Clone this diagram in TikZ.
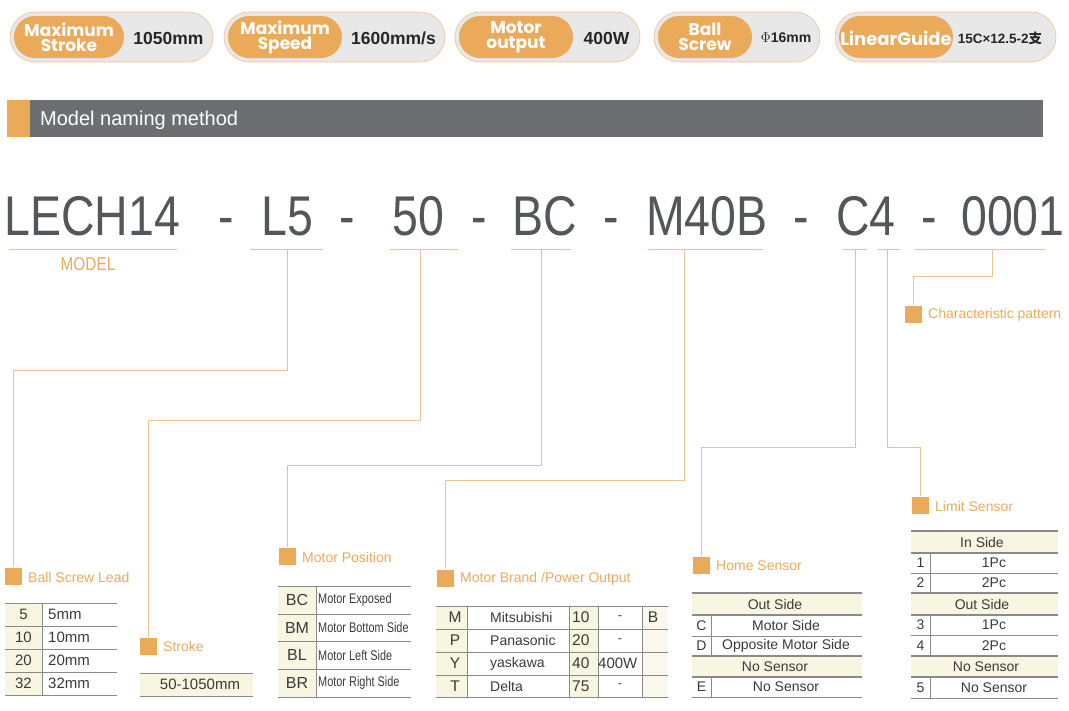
\documentclass[tikz,border=0pt]{standalone}
\usepackage{fontspec}
\setmainfont{Liberation Sans}
\newfontfamily\pop{Poppins}
\newfontfamily\narrow[FakeStretch=0.83]{Liberation Sans}
\newfontfamily\narrowb[FakeStretch=0.78]{Liberation Sans}
\newfontfamily\cjk{Noto Sans CJK SC}
\definecolor{orng}{HTML}{EBA95A}
\definecolor{lead}{HTML}{E9C290}
\definecolor{bgray}{HTML}{E8E8E8}
\definecolor{hdr}{HTML}{6D6E71}
\definecolor{big}{HTML}{53575A}
\definecolor{cream}{HTML}{F8F5E1}
\definecolor{tline}{HTML}{8A8A8A}
\definecolor{ttext}{HTML}{3A3A3A}
\begin{document}
\begin{tikzpicture}[x=1pt,y=-1pt,
  leadln/.style={draw=lead,line width=0.9pt},
  sq/.style={fill=orng},
  lab/.style={anchor=west,text=orng,font=\fontsize{14}{15}\selectfont,inner sep=0},
  bigt/.style={anchor=base west,text=big,font=\narrow\fontsize{56}{60}\selectfont,inner sep=0},
  btxt/.style={text=white,font=\pop\bfseries\fontsize{17}{15}\selectfont,align=center,inner sep=0},
  bval/.style={text=black!85,font=\bfseries\fontsize{18}{15}\selectfont,inner sep=0},
  cell/.style={text=ttext,font=\fontsize{12.5}{13}\selectfont,inner sep=0},
  tl/.style={draw=tline,line width=0.8pt},
  th/.style={draw=tline,line width=1.6pt}]
\useasboundingbox (0,0) rectangle (1069,710);
% badges
\foreach \a/\b/\c/\t/\v/\vs in {10/213/124/{Maximum\\Stroke}/1050mm/17.5, 224/445/342/{Maximum\\Speed}/1600mm\slash s/17.5, 455/640/573/{Motor\\output}/400W/17.5, 654/820/752/{Ball\\Screw}/{$\Phi$16mm}/14}{
  \draw[fill=bgray,draw=orng!70,line width=0.6pt,rounded corners=25] (\a,12) rectangle (\b,62);
  \fill[orng,rounded corners=21] (\a+4,16) rectangle (\c,58);
  \node[btxt] at ({(\a+4+\c)/2},37) {\t};
  \node[bval,font=\bfseries\fontsize{\vs}{14}\selectfont] at ({(\c+\b)/2},38) {\v};
}
\draw[fill=bgray,draw=orng!70,line width=0.6pt,rounded corners=25] (835,12) rectangle (1056,62);
\fill[orng,rounded corners=21] (839,16) rectangle (953,58);
\node[btxt,font=\pop\bfseries\fontsize{18}{16}\selectfont] at (896,38) {LinearGuide};
\node[bval,font=\bfseries\fontsize{13.5}{13}\selectfont] at (1000,38) {15C×12.5-2{\cjk 支}};
% header
\fill[hdr] (7,100) rectangle (1043,137);
\fill[orng] (7,100) rectangle (30,137);
\node[anchor=west,text=white,font=\fontsize{20}{20}\selectfont,inner sep=0] at (40,120) {Model naming method};
% big code
\node[bigt] (m) at (4,235) {LECH14};
\node[bigt] at (218,235) {-};
\node[bigt] (l5) at (261,235) {L5};
\node[bigt] at (339,235) {-};
\node[bigt] (s50) at (392,235) {50};
\node[bigt] at (471,235) {-};
\node[bigt] (bc) at (512,235) {BC};
\node[bigt] at (603,235) {-};
\node[bigt] (mb) at (646,235) {M40B};
\node[bigt] at (793,235) {-};
\node[bigt] (c4) at (836,235) {C4};
\node[bigt] at (921,235) {-};
\node[bigt] (ch) at (961,235) {0001};
% underlines
\foreach \a/\b in {9/177,250/323,390/458,511/571,648/763,843/867,878/900,915/1045}
  \draw[leadln] (\a,249) -- (\b,249);
\node[text=orng,font=\narrow\fontsize{18.5}{18}\selectfont,inner sep=0] at (88,264) {MODEL};
% leaders
\coordinate (a1) at (287,249); \coordinate (a2) at (420,249); \coordinate (a3) at (541,249);
\coordinate (a4) at (684,249); \coordinate (a5) at (855,249); \coordinate (a6) at (887,249);
\coordinate (a7) at (992,249);
\node[sq,minimum size=17,inner sep=0] (q1) at (13.5,576) {};
\node[sq,minimum size=17,inner sep=0] (q2) at (148,646) {};
\node[sq,minimum size=17,inner sep=0] (q3) at (287,556) {};
\node[sq,minimum size=17,inner sep=0] (q4) at (445,578) {};
\node[sq,minimum size=17,inner sep=0] (q5) at (701,565) {};
\node[sq,minimum size=17,inner sep=0] (q6) at (920,505) {};
\node[sq,minimum size=17,inner sep=0] (q7) at (913,314) {};
\draw[leadln] (a1) |- (13.5,370) -- (q1.north);
\draw[leadln] (a2) |- (148,420) -- (q2.north);
\draw[leadln] (a3) |- (287,465) -- (q3.north);
\draw[leadln] (a4) |- (445,480) -- (q4.north);
\draw[leadln] (a5) |- (701,447) -- (q5.north);
\draw[leadln] (a6) |- (920,447) -- (q6.north);
\draw[leadln] (a7) |- (913,276) -- (q7.north);
\node[lab] at (28,577) {Ball Screw Lead};
\node[lab] at (163,646) {Stroke};
\node[lab] at (302,557) {Motor Position};
\node[lab] at (460,579) {Motor Brand /Power Output};
\node[lab] at (716,566) {Home Sensor};
\node[lab] at (935,506) {Limit Sensor};
\node[lab] at (928,315) {Characteristic pattern};
% Ball screw lead table
\fill[cream] (5,603) rectangle (42,695);
\foreach \y in {603,626,649,672,695} \draw[tl] (5,\y) -- (117,\y);
\draw[tl] (42,603) -- (42,695);
\foreach \i/\y in {5/614.5,10/637.5,20/660.5,32/683.5}{
  \node[cell,font=\fontsize{15}{15}\selectfont] at (23.5,\y) {\i};
  \node[cell,anchor=west,font=\fontsize{15}{15}\selectfont] at (48,\y) {\i mm};}
% stroke table
\fill[cream] (140,673) rectangle (253,696);
\draw[tl] (140,673) -- (253,673); \draw[tl] (140,696) -- (253,696);
\node[cell,font=\fontsize{15}{15}\selectfont] at (200,684.5) {50-1050mm};
% motor position
\fill[cream] (278,586) rectangle (316,697);
\foreach \y in {586,614,641,669,697} \draw[tl] (278,\y) -- (411,\y);
\draw[tl] (316,586) -- (316,697);
\foreach \k/\t/\y in {BC/Motor Exposed/600,BM/Motor Bottom Side/627.5,BL/Motor Left Side/655,BR/Motor Right Side/683}{
  \node[cell,font=\fontsize{16}{16}\selectfont] at (297,\y) {\k};
  \node[cell,anchor=west,font=\narrowb\fontsize{14}{14}\selectfont] at (318,\y) {\t};}
% motor brand
\fill[cream] (436,606) rectangle (467,697);
\fill[cream] (569,606) rectangle (598,697);
\fill[cream!60] (642,606) rectangle (668,697);
\foreach \y in {606,629,652,675,697} \draw[tl] (436,\y) -- (668,\y);
\foreach \x in {467,569,598,642} \draw[tl] (\x,606) -- (\x,697);
\foreach \k/\n/\p/\w/\y in {M/Mitsubishi/10/-/617.5,P/Panasonic/20/-/640.5,Y/yaskawa/40/{}/663.5,T/Delta/75/-/686}{
  \node[cell,font=\fontsize{15.5}{15}\selectfont] at (455,\y) {\k};
  \node[cell,anchor=west,font=\fontsize{14}{14}\selectfont] at (490,\y) {\n};
  \node[cell,anchor=west,font=\fontsize{15.5}{15}\selectfont] at (572,\y) {\p};
  \node[cell] at (620,\y) {\w};}
\node[cell,font=\fontsize{15.5}{15}\selectfont] at (653,617.5) {B};
\node[cell,anchor=west,font=\fontsize{15}{15}\selectfont] at (598,663.5) {400W};
% home sensor
\fill[cream] (692,593) rectangle (862,615);
\fill[cream] (692,656) rectangle (862,677);
\foreach \y in {593,615,656,677} \draw[th] (692,\y) -- (862,\y);
\foreach \y in {636,697} \draw[tl] (692,\y) -- (862,\y);
\draw[tl] (711,615) -- (711,656); \draw[tl] (711,677) -- (711,697);
\node[cell,font=\fontsize{14}{14}\selectfont] at (775,604) {Out Side};
\node[cell,font=\fontsize{14}{14}\selectfont] at (775,666.5) {No Sensor};
\foreach \k/\t/\y in {C/Motor Side/625.5,D/Opposite Motor Side/646,E/No Sensor/687}{
  \node[cell,font=\fontsize{14}{14}\selectfont] at (701.5,\y) {\k};
  \node[cell,font=\fontsize{14}{14}\selectfont] at (786,\y) {\t};}
% limit sensor
\fill[cream] (911,531) rectangle (1058,553);
\fill[cream] (911,593) rectangle (1058,615);
\fill[cream] (911,656) rectangle (1058,677);
\foreach \y in {531,553,593,615,656,677} \draw[th] (911,\y) -- (1058,\y);
\foreach \y in {573,635,698} \draw[tl] (911,\y) -- (1058,\y);
\foreach \a/\b in {553/593,615/656,677/698} \draw[tl] (930,\a) -- (930,\b);
\node[cell,font=\fontsize{14}{14}\selectfont] at (982,542) {In Side};
\node[cell,font=\fontsize{14}{14}\selectfont] at (982,604) {Out Side};
\node[cell,font=\fontsize{14}{14}\selectfont] at (986,666.5) {No Sensor};
\foreach \k/\t/\y in {1/1Pc/563,2/2Pc/583,3/1Pc/625,4/2Pc/645.5,5/No Sensor/687.5}{
  \node[cell,font=\fontsize{14}{14}\selectfont] at (920.5,\y) {\k};
  \node[cell,font=\fontsize{14}{14}\selectfont] at (994,\y) {\t};}
\end{tikzpicture}
\end{document}
